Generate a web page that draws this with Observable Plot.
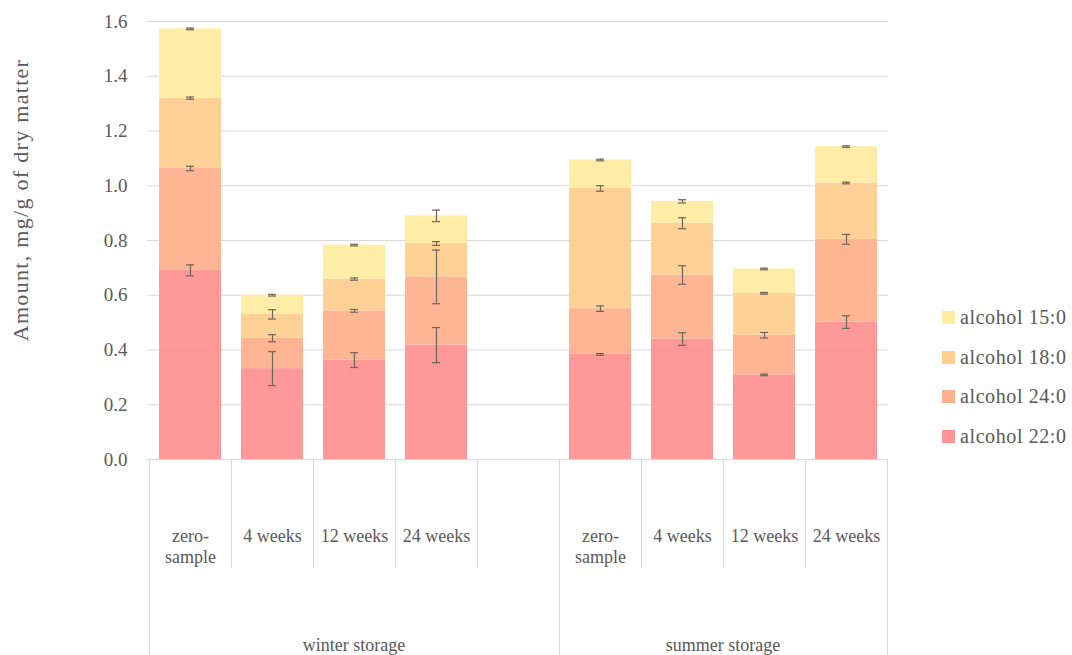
<!DOCTYPE html>
<html>
<head>
<meta charset="utf-8">
<script src="https://cdn.jsdelivr.net/npm/d3@7"></script>
<script src="https://cdn.jsdelivr.net/npm/@observablehq/plot@0.6"></script>
<style>
  body { margin: 0; background: #fff; }
  #wrap { position: relative; width: 1072px; height: 655px; font-family: 'Liberation Serif', serif; color: #595959; }
  #legend { position: absolute; left: 942px; top: 298px; }
  #legend .row { display: flex; align-items: center; height: 39.5px; font-size: 20px; letter-spacing: 0.6px; }
  #legend .sw { width: 13px; height: 13px; margin-right: 5px; }
</style>
</head>
<body>
<div id="wrap"><div id="legend"></div></div>
<script>
// ---- data ----
const slots = ["w0", "w4", "w12", "w24", "gap", "s0", "s4", "s12", "s24"];
const slotLabels = ["zero-\nsample", "4 weeks", "12 weeks", "24 weeks", "", "zero-\nsample", "4 weeks", "12 weeks", "24 weeks"];
const groups = ["winter storage", "summer storage"];
const samples = ["w0", "w4", "w12", "w24", "s0", "s4", "s12", "s24"];
const series = ["alcohol 22:0", "alcohol 24:0", "alcohol 18:0", "alcohol 15:0"];
const colors = ["#ff9494", "#feb18e", "#ffcf90", "#ffeba1"];
const yTicks = [0, 0.2, 0.4, 0.6, 0.8, 1.0, 1.2, 1.4, 1.6];

const alc22 = [0.691, 0.332, 0.363, 0.418, 0.384, 0.440, 0.309, 0.502];
const alc24 = [0.372, 0.111, 0.180, 0.249, 0.167, 0.234, 0.145, 0.302];
const alc18 = [0.257, 0.087, 0.116, 0.122, 0.439, 0.189, 0.153, 0.206];
const alc15 = [0.253, 0.070, 0.124, 0.101, 0.104, 0.080, 0.089, 0.133];

const err22 = [0.020, 0.062, 0.027, 0.064, 0.003, 0.023, 0.003, 0.023];
const err24 = [0.008, 0.013, 0.005, 0.098, 0.010, 0.034, 0.010, 0.018];
const err18 = [0.004, 0.017, 0.004, 0.007, 0.010, 0.020, 0.003, 0.003];
const err15 = [0.003, 0.003, 0.003, 0.021, 0.003, 0.006, 0.003, 0.003];

const values = [alc22, alc24, alc18, alc15];
const errors = [err22, err24, err18, err15];

// ---- build tables ----
const rows = [];
const errs = [];
samples.forEach((s, i) => {
  let cum = 0;
  series.forEach((name, j) => {
    const v = values[j][i];
    rows.push({ slot: s, series: name, v });
    cum += v;
    errs.push({ slot: s, top: cum, lo: cum - errors[j][i], hi: cum + errors[j][i] });
  });
});
const labelOf = new Map(slots.map((s, i) => [s, slotLabels[i]]));

const W = 1072, H = 655, mL = 147, mR = 184, mT = 21, mB = 196;
const errColor = "#6b6658";

const plot = Plot.plot({
  width: W,
  height: H,
  marginLeft: mL,
  marginRight: mR,
  marginTop: mT,
  marginBottom: mB,
  style: { fontFamily: "'Liberation Serif', serif", fontSize: "19px", color: "#595959", background: "#fff" },
  x: { type: "band", domain: slots, paddingInner: 0.247, paddingOuter: 0.1235, align: 0.5 },
  y: { domain: [0, 1.6] },
  color: { domain: series, range: colors },
  marks: [
    Plot.gridY(yTicks, { stroke: "#d9d9d9", strokeOpacity: 1 }),
    Plot.barY(rows, { x: "slot", y: "v", fill: "series", fillOpacity: 0.95 }),
    Plot.ruleX(errs, { x: "slot", y1: "lo", y2: "hi", stroke: errColor, strokeWidth: 1.2 }),
    Plot.tickY(errs, { x: "slot", y: "lo", stroke: errColor, strokeWidth: 1.2, insetLeft: 27, insetRight: 27 }),
    Plot.tickY(errs, { x: "slot", y: "hi", stroke: errColor, strokeWidth: 1.2, insetLeft: 27, insetRight: 27 }),
    Plot.axisY({ ticks: yTicks, tickFormat: d => d.toFixed(1), tickSize: 0, tickPadding: 20, label: null, fontSize: 19 }),
    Plot.axisX({ tickSize: 0, tickPadding: 67, tickFormat: s => labelOf.get(s), label: null, fontSize: 18, lineHeight: 1.2 })
  ]
});

document.getElementById("wrap").prepend(plot);

// ---- hierarchical category axis drawn from the x scale ----
const xs = plot.scale("x");
const off = (xs.step - xs.bandwidth) / 2;
const bounds = slots.map(s => xs.apply(s) - off);
bounds.push(xs.apply(slots[slots.length - 1]) + xs.bandwidth + off);
const y0 = H - mB;
const svg = d3.select(plot);
const g = svg.append("g").attr("stroke", "#d9d9d9").attr("stroke-width", 1);
const groupIdx = [0, 5, 9];
bounds.forEach((b, i) => {
  const xx = Math.round(b) + 0.5;
  g.append("line").attr("x1", xx).attr("x2", xx).attr("y1", y0)
    .attr("y2", groupIdx.includes(i) ? H : y0 + 109);
});
const gt = svg.append("g").attr("fill", "#595959").attr("font-size", 18).attr("text-anchor", "middle");
gt.append("text").attr("x", (bounds[0] + bounds[5]) / 2).attr("y", 651).text(groups[0]);
gt.append("text").attr("x", (bounds[5] + bounds[9]) / 2).attr("y", 651).text(groups[1]);

// y-axis title
svg.append("text")
  .attr("transform", "translate(28,200) rotate(-90)")
  .attr("text-anchor", "middle").attr("fill", "#595959").attr("font-size", 22)
  .attr("letter-spacing", 1.3)
  .text("Amount, mg/g of dry matter");

// ---- legend ----
const legend = d3.select("#legend");
series.map((s, i) => [s, colors[i]]).reverse().forEach(([s, c]) => {
  const r = legend.append("div").attr("class", "row");
  r.append("div").attr("class", "sw").style("background", c);
  r.append("span").text(s);
});
</script>
</body>
</html>
